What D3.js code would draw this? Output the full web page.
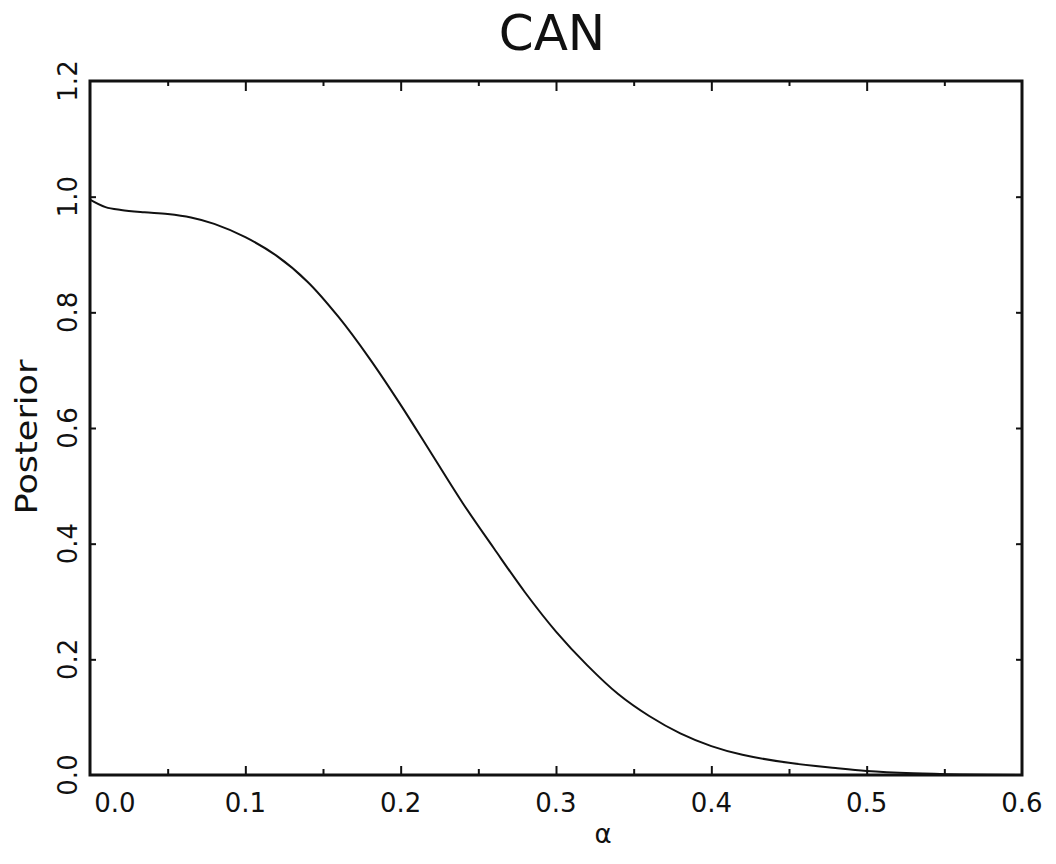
<!DOCTYPE html>
<html>
<head>
<meta charset="utf-8">
<script src="https://cdn.jsdelivr.net/npm/d3@7"></script>
<style>
  body { margin: 0; background: #fff; }
  text { font-family: "DejaVu Sans", sans-serif; fill: #111; }
</style>
</head>
<body>
<div id="chart"></div>
<script>
// values
const alphaValues = [0, 0.01, 0.02, 0.035, 0.05, 0.065, 0.08, 0.1, 0.12, 0.14, 0.16, 0.18, 0.2, 0.22, 0.24, 0.26, 0.28, 0.3, 0.32, 0.34, 0.36, 0.38, 0.4, 0.42, 0.45, 0.48, 0.5, 0.53, 0.56, 0.6];
const posteriorValues = [0.995, 0.982, 0.977, 0.973, 0.970, 0.964, 0.953, 0.930, 0.898, 0.853, 0.792, 0.720, 0.640, 0.555, 0.470, 0.392, 0.316, 0.248, 0.190, 0.140, 0.102, 0.072, 0.050, 0.035, 0.021, 0.012, 0.007, 0.003, 0.001, 0];
const xTickLabels = [0, 0.1, 0.2, 0.3, 0.4, 0.5, 0.6];
const xMinorTicks = [0.05, 0.15, 0.25, 0.35, 0.45, 0.55];
const yTickLabels = [0, 0.2, 0.4, 0.6, 0.8, 1.0, 1.2];

const svgWidth = 1056;
const svgHeight = 864;
const plot = { left: 90, right: 1022, top: 81, bottom: 775 };

const svg = d3.select('#chart').append('svg')
    .attr('width', svgWidth)
    .attr('height', svgHeight);

const x = d3.scaleLinear().domain([0, 0.6]).range([plot.left, plot.right]);
const y = d3.scaleLinear().domain([0, 1.2]).range([plot.bottom, plot.top]);

// ticks pointing into the frame
svg.append('g')
    .attr('transform', `translate(0,${plot.bottom})`)
    .call(d3.axisTop(x).tickValues(xTickLabels.slice(1, -1)).tickSize(9).tickFormat(''))
    .call(g => g.select('.domain').remove());
svg.append('g')
    .attr('transform', `translate(0,${plot.bottom})`)
    .call(d3.axisTop(x).tickValues(xMinorTicks).tickSize(6).tickFormat(''))
    .call(g => g.select('.domain').remove());
svg.append('g')
    .attr('transform', `translate(0,${plot.top})`)
    .call(d3.axisBottom(x).tickValues(xTickLabels.slice(1, -1)).tickSize(10).tickFormat(''))
    .call(g => g.select('.domain').remove());
svg.append('g')
    .attr('transform', `translate(0,${plot.top})`)
    .call(d3.axisBottom(x).tickValues(xMinorTicks).tickSize(5).tickFormat(''))
    .call(g => g.select('.domain').remove());
svg.append('g')
    .attr('transform', `translate(${plot.left},0)`)
    .call(d3.axisRight(y).tickValues(yTickLabels.slice(1, -1)).tickSize(6).tickFormat(''))
    .call(g => g.select('.domain').remove());
svg.append('g')
    .attr('transform', `translate(${plot.right},0)`)
    .call(d3.axisLeft(y).tickValues(yTickLabels.slice(1, -1)).tickSize(6).tickFormat(''))
    .call(g => g.select('.domain').remove());
svg.selectAll('.tick line').attr('stroke', '#111').attr('stroke-width', 2);

// frame
svg.append('rect')
    .attr('x', plot.left).attr('y', plot.top)
    .attr('width', plot.right - plot.left).attr('height', plot.bottom - plot.top)
    .attr('fill', 'none')
    .attr('stroke', '#111')
    .attr('stroke-width', 3);

// tick labels
svg.selectAll('.xlab')
    .data(xTickLabels)
    .enter().append('text')
    .attr('class', 'xlab')
    .attr('x', d => x(d) + (d === 0 ? 25 : 0))
    .attr('y', 812)
    .attr('text-anchor', 'middle')
    .style('font-size', '26px')
    .text(d => d.toFixed(1));

svg.selectAll('.ylab')
    .data(yTickLabels)
    .enter().append('text')
    .attr('class', 'ylab')
    .attr('transform', d => `translate(77,${y(d)}) rotate(-90)`)
    .attr('text-anchor', 'middle')
    .style('font-size', '26px')
    .text(d => d.toFixed(1));

// titles
svg.append('text')
    .attr('x', 552).attr('y', 50)
    .attr('text-anchor', 'middle')
    .style('font-size', '50px')
    .text('CAN');

svg.append('text')
    .attr('transform', 'translate(37,437) rotate(-90)')
    .attr('text-anchor', 'middle')
    .attr('textLength', 155)
    .attr('lengthAdjust', 'spacingAndGlyphs')
    .style('font-size', '31px')
    .text('Posterior');

svg.append('text')
    .attr('x', 603).attr('y', 843)
    .attr('text-anchor', 'middle')
    .style('font-size', '26px')
    .text('α');

// posterior curve
const points = alphaValues.map((a, i) => ({ a: a, p: posteriorValues[i] }));
const line = d3.line()
    .x(d => x(d.a))
    .y(d => y(d.p))
    .curve(d3.curveCatmullRom.alpha(0.5));

svg.append('path')
    .datum(points)
    .attr('d', line)
    .attr('fill', 'none')
    .attr('stroke', '#111')
    .attr('stroke-width', 2);
</script>
</body>
</html>
